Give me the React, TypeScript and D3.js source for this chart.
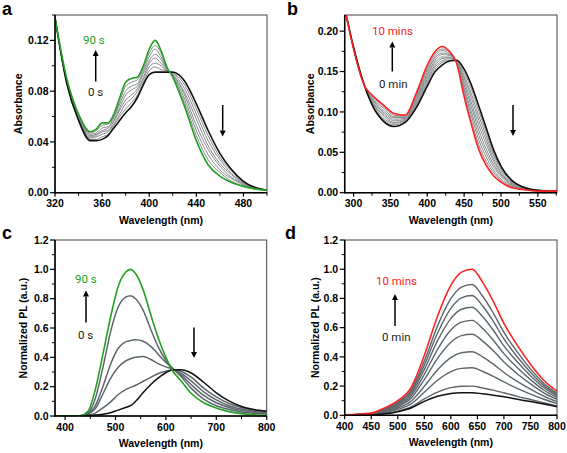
import React from 'react';
import * as d3 from 'd3';

// ---------- Panel a: absorbance, 0 s -> 90 s ----------
const wlA = [320,330,340,350,355,360,365,370,375,380,385,390,395,400,405,410,415,420,425,430,440,450,460,470,480,490,500];
const absA_0s = [0.138,0.086,0.057,0.041,0.041,0.042,0.045,0.051,0.057,0.063,0.068,0.075,0.085,0.093,0.095,0.095,0.095,0.095,0.093,0.088,0.070,0.049,0.031,0.018,0.009,0.004,0.002];
const absA_g1 = [0.138,0.086,0.058,0.042,0.042,0.044,0.046,0.053,0.060,0.066,0.071,0.077,0.087,0.096,0.099,0.097,0.096,0.094,0.091,0.085,0.066,0.045,0.028,0.017,0.008,0.004,0.002];
const absA_g2 = [0.138,0.087,0.058,0.043,0.044,0.046,0.048,0.054,0.062,0.070,0.074,0.080,0.089,0.099,0.102,0.100,0.096,0.094,0.089,0.082,0.062,0.041,0.026,0.015,0.008,0.004,0.002];
const absA_g3 = [0.138,0.087,0.059,0.044,0.045,0.048,0.049,0.056,0.065,0.073,0.077,0.082,0.091,0.102,0.106,0.102,0.097,0.093,0.087,0.079,0.058,0.037,0.023,0.014,0.007,0.004,0.002];
const absA_g4 = [0.138,0.088,0.059,0.045,0.046,0.049,0.051,0.057,0.067,0.077,0.081,0.084,0.094,0.104,0.109,0.105,0.097,0.093,0.086,0.077,0.053,0.034,0.021,0.012,0.007,0.003,0.002];
const absA_g5 = [0.138,0.088,0.060,0.046,0.047,0.051,0.052,0.059,0.070,0.080,0.084,0.086,0.096,0.107,0.113,0.107,0.098,0.092,0.084,0.074,0.049,0.030,0.018,0.011,0.006,0.003,0.002];
const absA_g6 = [0.138,0.089,0.061,0.047,0.049,0.053,0.054,0.060,0.072,0.084,0.087,0.089,0.098,0.110,0.116,0.110,0.098,0.092,0.082,0.071,0.045,0.026,0.016,0.009,0.005,0.003,0.002];
const absA_90s = [0.138,0.090,0.062,0.048,0.050,0.055,0.055,0.062,0.075,0.087,0.090,0.091,0.100,0.113,0.120,0.112,0.099,0.091,0.080,0.068,0.041,0.022,0.013,0.008,0.005,0.003,0.002];

// ---------- Panel b: absorbance, 0 min -> 10 mins ----------
const wlB = [290,300,315,325,340,355,370,385,400,410,420,430,440,450,460,470,480,490,500,515,530,550,576];
const absB_0min = [0.220,0.180,0.132,0.109,0.089,0.082,0.087,0.105,0.132,0.149,0.158,0.163,0.164,0.153,0.133,0.107,0.080,0.053,0.033,0.015,0.007,0.003,0.002];
const absB_g1 = [0.220,0.180,0.132,0.110,0.091,0.084,0.088,0.107,0.135,0.152,0.161,0.164,0.164,0.149,0.128,0.101,0.075,0.049,0.031,0.014,0.007,0.003,0.002];
const absB_g2 = [0.220,0.180,0.132,0.112,0.093,0.086,0.089,0.109,0.138,0.155,0.163,0.166,0.163,0.145,0.122,0.095,0.070,0.046,0.029,0.013,0.006,0.003,0.002];
const absB_g3 = [0.220,0.179,0.132,0.113,0.096,0.087,0.090,0.111,0.141,0.157,0.166,0.167,0.163,0.142,0.117,0.089,0.065,0.042,0.026,0.012,0.006,0.003,0.002];
const absB_g4 = [0.220,0.179,0.132,0.114,0.098,0.089,0.091,0.113,0.144,0.160,0.168,0.168,0.162,0.138,0.111,0.083,0.060,0.039,0.024,0.011,0.006,0.003,0.002];
const absB_g5 = [0.220,0.179,0.132,0.116,0.100,0.091,0.092,0.115,0.146,0.163,0.171,0.170,0.162,0.134,0.106,0.077,0.054,0.035,0.022,0.010,0.005,0.002,0.002];
const absB_g6 = [0.220,0.179,0.132,0.117,0.102,0.093,0.093,0.117,0.149,0.166,0.173,0.171,0.161,0.130,0.100,0.071,0.049,0.032,0.020,0.009,0.005,0.002,0.002];
const absB_g7 = [0.220,0.178,0.132,0.118,0.105,0.094,0.094,0.119,0.152,0.168,0.176,0.172,0.161,0.127,0.095,0.065,0.044,0.028,0.017,0.008,0.005,0.002,0.002];
const absB_g8 = [0.220,0.178,0.132,0.120,0.107,0.096,0.095,0.121,0.155,0.171,0.178,0.174,0.160,0.123,0.089,0.059,0.039,0.025,0.015,0.007,0.004,0.002,0.002];
const absB_10min = [0.220,0.178,0.132,0.121,0.109,0.098,0.096,0.123,0.158,0.174,0.181,0.175,0.160,0.119,0.084,0.053,0.034,0.021,0.013,0.006,0.004,0.002,0.002];

// ---------- Panel c: PL, 0 s -> 90 s ----------
const wlC = [380,430,445,460,475,490,505,520,530,540,555,570,585,600,615,630,650,675,700,725,750,775,800];
const plC_90s = [0,0.002,0.03,0.18,0.42,0.67,0.88,0.98,1.0,0.97,0.86,0.69,0.53,0.40,0.30,0.24,0.155,0.09,0.055,0.03,0.016,0.008,0.005];
const plC_g1 = [0,0.002,0.02,0.12,0.33,0.57,0.74,0.81,0.82,0.80,0.72,0.59,0.47,0.38,0.32,0.27,0.19,0.115,0.07,0.045,0.028,0.018,0.013];
const plC_g2 = [0,0.002,0.015,0.07,0.20,0.35,0.46,0.505,0.515,0.52,0.51,0.475,0.42,0.365,0.32,0.28,0.215,0.14,0.09,0.058,0.038,0.025,0.018];
const plC_g3 = [0,0.002,0.012,0.05,0.15,0.255,0.33,0.375,0.39,0.40,0.405,0.385,0.355,0.335,0.318,0.29,0.24,0.165,0.11,0.07,0.047,0.032,0.022];
const plC_g4 = [0,0.001,0.006,0.02,0.055,0.095,0.145,0.18,0.195,0.21,0.237,0.263,0.29,0.305,0.316,0.305,0.265,0.19,0.13,0.085,0.057,0.04,0.028];
const plC_0s = [0,0.001,0.003,0.006,0.012,0.022,0.04,0.058,0.07,0.10,0.16,0.215,0.26,0.295,0.315,0.315,0.293,0.23,0.158,0.103,0.065,0.045,0.034];

// ---------- Panel d: PL, 0 min -> 10 mins ----------
const wlD = [400,450,475,500,525,550,575,600,620,640,660,680,700,725,750,775,800];
const plD_10min = [0.003,0.015,0.05,0.10,0.19,0.41,0.68,0.89,0.98,1.0,0.91,0.78,0.63,0.48,0.35,0.24,0.165];
const plD_g1 = [0.003,0.013,0.045,0.091,0.173,0.371,0.612,0.798,0.878,0.895,0.815,0.70,0.568,0.434,0.318,0.22,0.152];
const plD_g2 = [0.002,0.012,0.041,0.084,0.16,0.343,0.563,0.732,0.804,0.82,0.748,0.643,0.523,0.401,0.295,0.205,0.142];
const plD_g3 = [0.002,0.011,0.038,0.077,0.147,0.313,0.511,0.662,0.726,0.74,0.675,0.582,0.475,0.366,0.271,0.19,0.132];
const plD_g4 = [0.002,0.01,0.033,0.069,0.132,0.28,0.452,0.584,0.638,0.65,0.594,0.514,0.422,0.327,0.244,0.173,0.121];
const plD_g5 = [0.001,0.008,0.029,0.06,0.116,0.244,0.39,0.50,0.545,0.555,0.508,0.442,0.365,0.285,0.215,0.154,0.109];
const plD_g6 = [0.001,0.006,0.023,0.05,0.096,0.199,0.312,0.395,0.428,0.435,0.40,0.35,0.293,0.232,0.179,0.131,0.093];
const plD_g7 = [0.001,0.005,0.018,0.04,0.078,0.158,0.24,0.299,0.321,0.325,0.30,0.267,0.228,0.184,0.145,0.11,0.08];
const plD_g8 = [0,0.003,0.012,0.029,0.057,0.112,0.159,0.189,0.199,0.20,0.187,0.172,0.154,0.13,0.108,0.086,0.064];
const plD_0min = [0,0.002,0.01,0.025,0.05,0.095,0.13,0.15,0.155,0.155,0.147,0.138,0.127,0.11,0.094,0.077,0.058];

// tick labels
const xTicksA = [320, 360, 400, 440, 480];
const yTicksA = [0, 0.04, 0.08, 0.12];
const xTicksB = [300, 350, 400, 450, 500, 550];
const yTicksB = [0, 0.05, 0.1, 0.15, 0.2];
const xTicksC = [400, 500, 600, 700, 800];
const yTicksPL = [0, 0.2, 0.4, 0.6, 0.8, 1.0, 1.2];
const xTicksD = [400, 450, 500, 550, 600, 650, 700, 750, 800];

const GREEN = '#22a022';
const RED = '#ff2222';
const BLACK = '#111111';
const GREY_AB = '#858a8c';
const GREY_CD = '#5c666c';
const AXIS_FONT = "'Liberation Sans', Arial, sans-serif";
const NOTE_FONT = "Roboto, 'Noto Sans', sans-serif";

type Curve = { values: number[]; color: string; width: number };
type Note = { text: string; x: number; y: number; color: string };
type Arrow = { x: number; y1: number; y2: number }; // head at y2

type PanelProps = {
  letter: string; letterX: number; letterY: number;
  left: number; right: number; top: number; bottom: number;
  xDomain: [number, number]; yDomain: [number, number];
  xTicks: number[]; xMinor: number[]; yTicks: number[]; yMinor: number[];
  yFmt: (v: number) => string;
  yTitle: string; yTitleX: number;
  wl: number[]; curves: Curve[]; notes: Note[]; arrows: Arrow[];
  id: string;
};

function Panel(p: PanelProps) {
  const x = d3.scaleLinear().domain(p.xDomain).range([p.left, p.right]);
  const y = d3.scaleLinear().domain(p.yDomain).range([p.bottom, p.top]);
  const line = d3.line<number>()
    .x((_, i) => x(p.wl[i]))
    .y((v) => y(v))
    .curve(d3.curveMonotoneX);
  const cx = (p.left + p.right) / 2;
  const cy = (p.top + p.bottom) / 2;
  return (
    <g>
      <defs>
        <clipPath id={p.id}>
          <rect x={p.left} y={p.top} width={p.right - p.left} height={p.bottom - p.top} />
        </clipPath>
      </defs>
      <text x={p.letterX} y={p.letterY} fontFamily={AXIS_FONT} fontWeight="bold" fontSize={18}>{p.letter}</text>
      {/* frame */}
      <rect x={p.left} y={p.top} width={p.right - p.left} height={p.bottom - p.top} fill="none" stroke="#444" strokeWidth={1} />
      <g clipPath={`url(#${p.id})`}>
        {p.curves.map((c, i) => (
          <path key={i} d={line(c.values) || ''} fill="none" stroke={c.color} strokeWidth={c.width} strokeLinejoin="round" />
        ))}
      </g>
      <line x1={p.left} x2={p.left} y1={p.top} y2={p.bottom + 0.5} stroke="#000" strokeWidth={1.5} />
      <line x1={p.left - 0.5} x2={p.right} y1={p.bottom} y2={p.bottom} stroke="#000" strokeWidth={1.5} />
      {p.xMinor.map((t, i) => (
        <line key={'xm' + i} x1={x(t)} x2={x(t)} y1={p.bottom} y2={p.bottom + 3} stroke="#000" strokeWidth={1} />
      ))}
      {p.xTicks.map((t, i) => (
        <g key={'x' + i}>
          <line x1={x(t)} x2={x(t)} y1={p.bottom} y2={p.bottom + 4} stroke="#000" strokeWidth={1.2} />
          <text x={x(t)} y={p.bottom + 14.5} textAnchor="middle" fontFamily={AXIS_FONT} fontWeight="bold" fontSize={10.5}>{t}</text>
        </g>
      ))}
      {p.yMinor.map((t, i) => (
        <line key={'ym' + i} x1={p.left - 3} x2={p.left} y1={y(t)} y2={y(t)} stroke="#000" strokeWidth={1} />
      ))}
      {p.yTicks.map((t, i) => (
        <g key={'y' + i}>
          <line x1={p.left - 5} x2={p.left} y1={y(t)} y2={y(t)} stroke="#000" strokeWidth={1.2} />
          <text x={p.left - 6.5} y={y(t) + 3.7} textAnchor="end" fontFamily={AXIS_FONT} fontWeight="bold" fontSize={10.5}>{p.yFmt(t)}</text>
        </g>
      ))}
      <text x={cx} y={p.bottom + 31} textAnchor="middle" fontFamily={AXIS_FONT} fontWeight="bold" fontSize={10.5}>Wavelength (nm)</text>
      <text transform={`translate(${p.yTitleX},${cy}) rotate(-90)`} textAnchor="middle" fontFamily={AXIS_FONT} fontWeight="bold" fontSize={10.5}>{p.yTitle}</text>
      {p.notes.map((n, i) => (
        <text key={'n' + i} x={n.x} y={n.y} fill={n.color} fontFamily={NOTE_FONT} fontSize={11.5}>{n.text}</text>
      ))}
      {p.arrows.map((a, i) => {
        const dir = a.y2 < a.y1 ? -1 : 1;
        const base = a.y2 - dir * 6;
        return (
          <g key={'a' + i}>
            <line x1={a.x} x2={a.x} y1={a.y1} y2={base} stroke="#000" strokeWidth={1.5} />
            <path d={`M${a.x},${a.y2} L${a.x - 3},${base} L${a.x + 3},${base} Z`} fill="#000" />
          </g>
        );
      })}
    </g>
  );
}

const greyCurves = (arrs: number[][], color: string, width: number): Curve[] =>
  arrs.map((values) => ({ values, color, width }));

export default function App() {
  const f2 = d3.format('.2f');
  const f1 = d3.format('.1f');
  return (
    <svg width={567} height={453} style={{ position: 'absolute', left: 0, top: 0, background: '#fff' }}>
      <rect width={567} height={453} fill="#fff" />
      <Panel id="clipA" letter="a" letterX={2} letterY={15}
        left={55} right={267} top={15} bottom={192.7}
        xDomain={[320, 500]} yDomain={[0, 0.14]}
        xTicks={xTicksA} xMinor={d3.range(340, 501, 40)}
        yTicks={yTicksA} yMinor={[0.02, 0.06, 0.10, 0.14]} yFmt={f2}
        yTitle="Absorbance" yTitleX={22}
        wl={wlA}
        curves={[
          ...greyCurves([absA_g1, absA_g2, absA_g3, absA_g4, absA_g5, absA_g6], GREY_AB, 1),
          { values: absA_0s, color: BLACK, width: 1.6 },
          { values: absA_90s, color: GREEN, width: 1.6 },
        ]}
        notes={[
          { text: '90 s', x: 83, y: 44, color: GREEN },
          { text: '0 s', x: 88, y: 96, color: '#222' },
        ]}
        arrows={[{ x: 95.7, y1: 81.5, y2: 50 }, { x: 222.7, y1: 105, y2: 136.5 }]}
      />
      <Panel id="clipB" letter="b" letterX={287} letterY={15}
        left={344.7} right={557} top={15} bottom={192.7}
        xDomain={[288, 576]} yDomain={[0, 0.22]}
        xTicks={xTicksB} xMinor={d3.range(325, 576, 50)}
        yTicks={yTicksB} yMinor={[0.025, 0.075, 0.125, 0.175]} yFmt={f2}
        yTitle="Absorbance" yTitleX={314}
        wl={wlB}
        curves={[
          ...greyCurves([absB_g1, absB_g2, absB_g3, absB_g4, absB_g5, absB_g6, absB_g7, absB_g8], GREY_AB, 1),
          { values: absB_0min, color: BLACK, width: 1.6 },
          { values: absB_10min, color: RED, width: 1.6 },
        ]}
        notes={[
          { text: '10 mins', x: 372, y: 35, color: RED },
          { text: '0 min', x: 379, y: 88, color: '#222' },
        ]}
        arrows={[{ x: 392.3, y1: 71.5, y2: 41.5 }, { x: 513, y1: 105, y2: 136 }]}
      />
      <Panel id="clipC" letter="c" letterX={2} letterY={239}
        left={55} right={266.7} top={240} bottom={416}
        xDomain={[380, 800]} yDomain={[0, 1.2]}
        xTicks={xTicksC} xMinor={d3.range(450, 800, 100)}
        yTicks={yTicksPL} yMinor={d3.range(0.1, 1.2, 0.2)} yFmt={f1}
        yTitle="Normalized PL (a.u.)" yTitleX={27}
        wl={wlC}
        curves={[
          ...greyCurves([plC_g1, plC_g2, plC_g3, plC_g4], GREY_CD, 1.5),
          { values: plC_0s, color: BLACK, width: 1.5 },
          { values: plC_90s, color: GREEN, width: 1.6 },
        ]}
        notes={[
          { text: '90 s', x: 75, y: 283, color: GREEN },
          { text: '0 s', x: 78, y: 339, color: '#222' },
        ]}
        arrows={[{ x: 86, y1: 322.5, y2: 290.5 }, { x: 194, y1: 327.5, y2: 358 }]}
      />
      <Panel id="clipD" letter="d" letterX={285} letterY={239}
        left={344.7} right={557} top={240} bottom={415.3}
        xDomain={[400, 800]} yDomain={[0, 1.2]}
        xTicks={xTicksD} xMinor={[]}
        yTicks={yTicksPL} yMinor={d3.range(0.1, 1.2, 0.2)} yFmt={f1}
        yTitle="Normalized PL (a.u.)" yTitleX={319}
        wl={wlD}
        curves={[
          ...greyCurves([plD_g1, plD_g2, plD_g3, plD_g4, plD_g5, plD_g6, plD_g7, plD_g8], GREY_CD, 1.4),
          { values: plD_0min, color: BLACK, width: 1.5 },
          { values: plD_10min, color: RED, width: 1.6 },
        ]}
        notes={[
          { text: '10 mins', x: 376, y: 285, color: RED },
          { text: '0 min', x: 382, y: 341, color: '#222' },
        ]}
        arrows={[{ x: 395, y1: 326, y2: 294 }]}
      />
    </svg>
  );
}
